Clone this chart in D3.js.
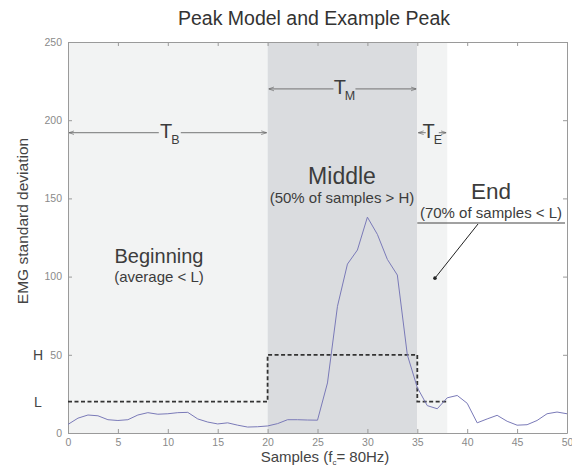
<!DOCTYPE html>
<html>
<head>
<meta charset="utf-8">
<script src="https://cdn.jsdelivr.net/npm/d3@7"></script>
<style>
  body { margin: 0; background: #fff; }
  svg text { font-family: "Liberation Sans", Arial, sans-serif; }
</style>
</head>
<body>
<div id="chart"></div>
<script>
// EMG standard deviation per sample
const samples = d3.range(0, 51);
const emgValues = [
  5.5, 9.5, 11.5, 11, 8.5, 8, 8.5, 11.5, 13, 12,
  12.3, 13, 13.2, 9, 7, 5.8, 6.5, 5, 3.8, 4,
  4.5, 6, 8.5, 8.5, 8.3, 8.2, 32, 81, 108, 117,
  138, 127, 111, 101, 50, 29, 17.5, 15.5, 22.5, 24,
  19, 6.5, 9, 11.3, 7.5, 5, 5.3, 8, 12.3, 13.4, 12.3
];

// peak model thresholds (step line)
const modelX = [0, 20, 20, 35, 35, 38];
const modelY = [20, 20, 50, 50, 20, 20];

// phases: beginning, middle, end
const phaseNames = ["B", "M", "E"];
const phaseStart = [0, 20, 35];
const phaseEnd = [20, 35, 38];
const phaseFill = ["#f2f3f3", "#dadcdf", "#f2f3f3"];
const arrowY = [192, 220, 192];

const xTicks = d3.range(0, 51, 5);
const yTicks = [0, 50, 100, 150, 200, 250];
const levelNames = ["H", "L"];
const levelValues = [50, 20];

const width = 572, height = 472;
const margin = { top: 42, right: 5, bottom: 39, left: 68 };
const textColor = "#3c3c3c";

const svg = d3.select("#chart").append("svg")
  .attr("width", width)
  .attr("height", height);

const x = d3.scaleLinear().domain([0, 50]).range([margin.left, width - margin.right]);
const y = d3.scaleLinear().domain([0, 250]).range([height - margin.bottom, margin.top]);

// shaded phases
svg.append("g")
  .selectAll("rect")
  .data(phaseNames)
  .join("rect")
  .attr("x", (d, i) => x(phaseStart[i]))
  .attr("width", (d, i) => x(phaseEnd[i]) - x(phaseStart[i]))
  .attr("y", y(250))
  .attr("height", y(0) - y(250))
  .attr("fill", (d, i) => phaseFill[i]);

// axes (box with inward ticks, matlab style)
const axisColor = "#9a9a9a";
const styleAxis = (g) => {
  g.select(".domain").attr("stroke", axisColor);
  g.selectAll(".tick line").attr("stroke", axisColor);
  g.selectAll(".tick text").attr("fill", "#8a8a8a").attr("font-size", 10.5);
};

svg.append("g")
  .attr("transform", `translate(0,${y(0)})`)
  .call(d3.axisBottom(x).tickValues(xTicks).tickSize(-4).tickPadding(6).tickSizeOuter(0))
  .call(styleAxis);
svg.append("g")
  .attr("transform", `translate(0,${y(250)})`)
  .call(d3.axisTop(x).tickValues(xTicks).tickSize(-4).tickFormat("").tickSizeOuter(0))
  .call(styleAxis);
svg.append("g")
  .attr("transform", `translate(${x(0)},0)`)
  .call(d3.axisLeft(y).tickValues(yTicks).tickSize(-4).tickPadding(6).tickSizeOuter(0))
  .call(styleAxis);
svg.append("g")
  .attr("transform", `translate(${x(50)},0)`)
  .call(d3.axisRight(y).tickValues(yTicks).tickSize(-4).tickFormat("").tickSizeOuter(0))
  .call(styleAxis);

// H and L labels
svg.append("g")
  .selectAll("text")
  .data(levelNames)
  .join("text")
  .attr("x", 38)
  .attr("y", (d, i) => y(levelValues[i]))
  .attr("dy", "0.36em")
  .attr("text-anchor", "middle")
  .attr("font-size", 14)
  .attr("fill", "#444")
  .text((d) => d);

// model step line
const line = d3.line().x((d) => x(d[0])).y((d) => y(d[1]));
svg.append("path")
  .datum(modelX.map((d, i) => [d, modelY[i]]))
  .attr("d", line)
  .attr("fill", "none")
  .attr("stroke", "#333")
  .attr("stroke-width", 1.8)
  .attr("stroke-dasharray", "4,2.5");

// example peak
svg.append("path")
  .datum(samples.map((d, i) => [d, emgValues[i]]))
  .attr("d", line)
  .attr("fill", "none")
  .attr("stroke", "#7a7ab8")
  .attr("stroke-width", 1);

// duration arrows
const defs = svg.append("defs");
defs.append("marker")
  .attr("id", "arr")
  .attr("viewBox", "0 0 10 10")
  .attr("refX", 10).attr("refY", 5)
  .attr("markerWidth", 6).attr("markerHeight", 6)
  .attr("orient", "auto-start-reverse")
  .append("path")
  .attr("d", "M0,1.5 L10,5 L0,8.5")
  .attr("fill", "none")
  .attr("stroke", "#666")
  .attr("stroke-width", 1.2);

const arrows = svg.append("g");
phaseNames.forEach((name, i) => {
  const x0 = x(phaseStart[i]), x1 = x(phaseEnd[i]);
  const xm = (x0 + x1) / 2 + (i === 2 ? 0 : 2);
  const yy = y(arrowY[i]);
  const gap = i === 2 ? 6.5 : 11;
  arrows.append("line")
    .attr("x1", x0 + 1).attr("x2", xm - gap)
    .attr("y1", yy).attr("y2", yy)
    .attr("stroke", "#666").attr("stroke-width", 0.9)
    .attr("marker-start", "url(#arr)");
  arrows.append("line")
    .attr("x1", xm + gap).attr("x2", x1 - 1)
    .attr("y1", yy).attr("y2", yy)
    .attr("stroke", "#666").attr("stroke-width", 0.9)
    .attr("marker-end", "url(#arr)");
  const t = arrows.append("text")
    .attr("x", xm)
    .attr("y", yy + 5.5)
    .attr("text-anchor", "middle")
    .attr("fill", textColor)
    .attr("font-size", 20);
  t.append("tspan").text("T");
  t.append("tspan").attr("font-size", 12.5).attr("dy", 6).attr("dx", -1).text(name);
});

// phase descriptions
const textBlock = (cx, cy, big, bigSize, small, gap) => {
  svg.append("text")
    .attr("x", cx).attr("y", cy)
    .attr("text-anchor", "middle")
    .attr("font-size", bigSize)
    .attr("fill", textColor)
    .text(big);
  svg.append("text")
    .attr("x", cx).attr("y", cy + gap)
    .attr("text-anchor", "middle")
    .attr("font-size", 15)
    .attr("fill", textColor)
    .text(small);
};
textBlock(159, 263, "Beginning", 20, "(average < L)", 19);
textBlock(342, 184, "Middle", 23, "(50% of samples > H)", 19);
textBlock(491, 199, "End", 22.5, "(70% of samples < L)", 19);

// underline and pointer for End
svg.append("line")
  .attr("x1", x(35)).attr("x2", x(49.8))
  .attr("y1", 223).attr("y2", 223)
  .attr("stroke", "#444").attr("stroke-width", 1.2);
svg.append("line")
  .attr("x1", 478).attr("y1", 224)
  .attr("x2", x(36.77)).attr("y2", y(99))
  .attr("stroke", "#222").attr("stroke-width", 1);
svg.append("circle")
  .attr("cx", x(36.77)).attr("cy", y(99))
  .attr("r", 1.8).attr("fill", "#222");

// title and axis labels
svg.append("text")
  .attr("x", 314).attr("y", 25)
  .attr("text-anchor", "middle")
  .attr("font-size", 19.5)
  .attr("fill", "#333")
  .text("Peak Model and Example Peak");

const xl = svg.append("text")
  .attr("x", 325).attr("y", 462)
  .attr("text-anchor", "middle")
  .attr("font-size", 15)
  .attr("fill", "#444");
xl.append("tspan").text("Samples (f");
xl.append("tspan").attr("font-size", 8).attr("dy", 3).text("c");
xl.append("tspan").attr("dy", -3).text("= 80Hz)");

svg.append("text")
  .attr("transform", "translate(28,221) rotate(-90)")
  .attr("text-anchor", "middle")
  .attr("font-size", 15.5)
  .attr("fill", "#444")
  .text("EMG standard deviation");
</script>
</body>
</html>
